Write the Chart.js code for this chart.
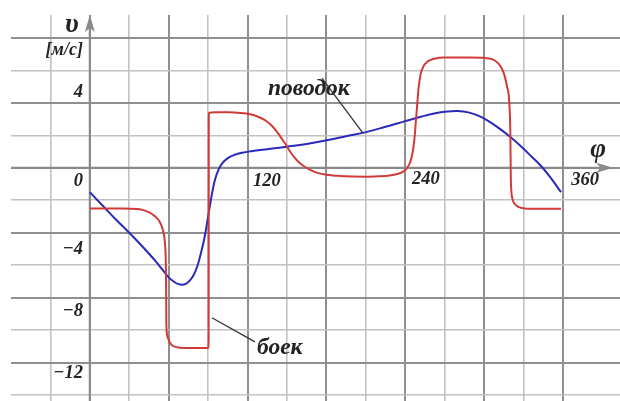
<!DOCTYPE html>
<html>
<head>
<meta charset="utf-8">
<script src="https://cdn.jsdelivr.net/npm/chart.js@4.4.1/dist/chart.umd.min.js"></script>
<style>
  html, body { margin: 0; padding: 0; background: #ffffff; }
  canvas { display: block; }
</style>
</head>
<body>
<canvas id="c" width="620" height="401"></canvas>
<script>
// ---- data ----
// боек (red)
const phiRed = [0, 10, 20, 30, 38, 44, 49, 53, 55.5, 57, 57.7, 58, 58.2, 58.6, 60, 62, 66, 72, 85, 90,
  90.4, 90.5, 90.7, 95, 105, 115, 122, 128, 134, 139, 143, 146, 149, 152, 155, 159, 163, 167, 172, 180,
  190, 200, 210, 220, 228, 234, 238, 241, 243.5, 245.5, 247, 248, 249, 250, 251.5, 253.5, 257, 262, 270, 290,
  300, 306, 310, 313, 315.5, 317.5, 319, 320, 320.3, 320.7, 321.5, 323, 326, 331, 340, 358.5];
const vRed = [-2.5, -2.5, -2.5, -2.52, -2.55, -2.7, -2.95, -3.3, -3.8, -4.5, -5.5, -7, -9.5, -10.2, -10.6, -10.9, -11.05, -11.1, -11.1, -11.1,
  -10.5, 3.2, 3.4, 3.42, 3.42, 3.38, 3.3, 3.15, 2.9, 2.55, 2.15, 1.8, 1.45, 1.05, 0.7, 0.35, 0.1, -0.1, -0.28, -0.42,
  -0.5, -0.54, -0.55, -0.52, -0.47, -0.38, -0.25, -0.05, 0.3, 0.9, 1.8, 2.8, 3.8, 4.8, 5.7, 6.2, 6.55, 6.72, 6.8, 6.8,
  6.78, 6.7, 6.5, 6.2, 5.7, 5.0, 4.2, 2.0, -0.5, -1.4, -1.9, -2.2, -2.4, -2.5, -2.52, -2.52];

// поводок (blue)
const phiBlue = [0, 10, 20, 30, 40, 50, 56, 60, 64, 67, 70, 73, 76, 79, 82, 85, 87.5, 90, 92.5, 95,
  98, 101, 105, 110, 116, 125, 135, 150, 165, 180, 195, 210, 225, 240, 252, 262, 272, 280, 288, 296,
  304, 312, 320, 328, 336, 344, 351, 358.5];
const vBlue = [-1.5, -2.35, -3.2, -4.0, -4.85, -5.75, -6.35, -6.75, -7.02, -7.15, -7.2, -7.15, -6.95, -6.6, -6.0, -5.1, -4.2, -3.0, -1.8, -0.8,
  -0.1, 0.3, 0.6, 0.8, 0.93, 1.05, 1.15, 1.3, 1.47, 1.7, 1.95, 2.2, 2.53, 2.88, 3.15, 3.35, 3.47, 3.5, 3.42, 3.2,
  2.85, 2.4, 1.9, 1.33, 0.7, 0.05, -0.65, -1.5];

// grid / tick values
const xTicks = [-30, 0, 30, 60, 90, 120, 150, 180, 210, 240, 270, 300, 330, 360];
const yTicks = [-14, -12, -10, -8, -6, -4, -2, 0, 2, 4, 6, 8];
const yTickLabels = ['4', '0', '−4', '−8', '−12'];
const yTickLabelValues = [4, 0, -4, -8, -12];
const xTickLabels = ['120', '240', '360'];
const xTickLabelValues = [120, 240, 360];

// ---- styling / annotations ----
const RED = '#d23a3a';
const BLUE = '#2a2ab8';
const GRID_MINOR = '#c2c2c2';
const GRID_MAJOR = '#8f8f8f';
const AXIS = '#8a8a8a';
const TEXT = '#222222';
const SERIF = '"Liberation Serif", "DejaVu Serif", serif';

// positions of the tick labels, in data units
const yLabelPos = { x: -5.3, dy: [0.67, -0.81, -1.0, -0.82, -0.64] };
const xLabelPos = { dx: 4.1, dxExtra: [0, 1, 2.3], y: [-0.81, -0.69, -0.75] };

const annotations = {
  unitTitle: { text: 'υ', x: -13.6, y: 8.8, size: 28 },
  unit: { text: '[м/с]', x: -5.3, y: 7.26, size: 18 },
  phi: { text: 'φ', x: 386.7, y: 1.1, size: 27 },
  povodok: { text: 'поводок', x: 135.5, y: 4.49, size: 23.5, lineFrom: [176.6, 5.53], lineTo: [207.8, 2.14] },
  boek: { text: 'боек', x: 127.2, y: -11.45, size: 23.5, lineFrom: [92.9, -9.24], lineTo: [125.6, -10.73] },
  xArrowEnd: 398.3,
  yArrowEnd: 9.42
};

const toPts = (xs, ys) => xs.map((x, i) => ({ x, y: ys[i] }));

const axesPlugin = {
  id: 'axesPlugin',
  beforeDatasetsDraw(chart) {
    const { ctx, chartArea, scales: { x, y } } = chart;
    const x0 = x.getPixelForValue(0);
    const y0 = y.getPixelForValue(0);
    ctx.save();
    ctx.strokeStyle = AXIS;
    ctx.fillStyle = AXIS;
    ctx.lineWidth = 2.2;
    const yTop = y.getPixelForValue(annotations.yArrowEnd);
    ctx.beginPath();
    ctx.moveTo(x0, chartArea.bottom);
    ctx.lineTo(x0, yTop + 8);
    ctx.stroke();
    ctx.beginPath();
    ctx.moveTo(x0, yTop);
    ctx.lineTo(x0 - 5, yTop + 17);
    ctx.lineTo(x0, yTop + 13);
    ctx.lineTo(x0 + 5, yTop + 17);
    ctx.closePath();
    ctx.fill();
    const xEnd = x.getPixelForValue(annotations.xArrowEnd);
    ctx.beginPath();
    ctx.moveTo(chartArea.left, y0);
    ctx.lineTo(xEnd - 8, y0);
    ctx.stroke();
    ctx.beginPath();
    ctx.moveTo(xEnd, y0);
    ctx.lineTo(xEnd - 17, y0 - 5);
    ctx.lineTo(xEnd - 13, y0);
    ctx.lineTo(xEnd - 17, y0 + 5);
    ctx.closePath();
    ctx.fill();
    ctx.restore();
  },
  afterDatasetsDraw(chart) {
    const { ctx, scales: { x, y } } = chart;
    ctx.save();
    ctx.fillStyle = TEXT;
    ctx.font = 'italic bold 18.5px ' + SERIF;
    ctx.textAlign = 'right';
    ctx.textBaseline = 'middle';
    yTickLabels.forEach((t, i) => {
      ctx.fillText(t, x.getPixelForValue(yLabelPos.x), y.getPixelForValue(yTickLabelValues[i] + yLabelPos.dy[i]));
    });
    ctx.textAlign = 'left';
    xTickLabels.forEach((t, i) => {
      ctx.fillText(t, x.getPixelForValue(xTickLabelValues[i] + xLabelPos.dx + xLabelPos.dxExtra[i]), y.getPixelForValue(xLabelPos.y[i]));
    });
    const a = annotations;
    ctx.textAlign = 'center';
    ctx.font = 'italic bold ' + a.unitTitle.size + 'px ' + SERIF;
    ctx.fillText(a.unitTitle.text, x.getPixelForValue(a.unitTitle.x), y.getPixelForValue(a.unitTitle.y));
    ctx.textAlign = 'right';
    ctx.font = 'italic bold ' + a.unit.size + 'px ' + SERIF;
    ctx.fillText(a.unit.text, x.getPixelForValue(a.unit.x), y.getPixelForValue(a.unit.y));
    ctx.textAlign = 'center';
    ctx.font = 'italic bold ' + a.phi.size + 'px ' + SERIF;
    ctx.fillText(a.phi.text, x.getPixelForValue(a.phi.x), y.getPixelForValue(a.phi.y));
    [a.povodok, a.boek].forEach(l => {
      ctx.strokeStyle = '#333333';
      ctx.lineWidth = 1.3;
      ctx.beginPath();
      ctx.moveTo(x.getPixelForValue(l.lineFrom[0]), y.getPixelForValue(l.lineFrom[1]));
      ctx.lineTo(x.getPixelForValue(l.lineTo[0]), y.getPixelForValue(l.lineTo[1]));
      ctx.stroke();
      ctx.font = 'italic bold ' + l.size + 'px ' + SERIF;
      ctx.textAlign = 'left';
      ctx.textBaseline = 'alphabetic';
      ctx.fillText(l.text, x.getPixelForValue(l.x), y.getPixelForValue(l.y));
      ctx.textBaseline = 'middle';
    });
    ctx.restore();
  }
};

new Chart(document.getElementById('c'), {
  type: 'scatter',
  data: {
    datasets: [
      {
        label: 'боек',
        data: toPts(phiRed, vRed),
        showLine: true,
        borderColor: RED,
        borderWidth: 2,
        pointRadius: 0,
        cubicInterpolationMode: 'monotone'
      },
      {
        label: 'поводок',
        data: toPts(phiBlue, vBlue),
        showLine: true,
        borderColor: BLUE,
        borderWidth: 2,
        pointRadius: 0,
        tension: 0.4
      }
    ]
  },
  options: {
    responsive: false,
    animation: false,
    layout: { padding: { left: 11, top: 15, right: 0, bottom: 0 } },
    plugins: { legend: { display: false }, tooltip: { enabled: false } },
    scales: {
      x: {
        type: 'linear',
        min: -60,
        max: 403.4,
        afterBuildTicks: s => { s.ticks = xTicks.map(v => ({ value: v })); },
        ticks: { display: false },
        border: { display: false },
        grid: {
          drawTicks: false,
          color: c => (c.tick && c.tick.value % 60 === 0) ? GRID_MAJOR : GRID_MINOR,
          lineWidth: c => (c.tick && c.tick.value % 60 === 0) ? 2 : 1.6
        }
      },
      y: {
        type: 'linear',
        min: -14.37,
        max: 9.42,
        afterBuildTicks: s => { s.ticks = yTicks.map(v => ({ value: v })); },
        ticks: { display: false },
        border: { display: false },
        grid: {
          drawTicks: false,
          color: c => (c.tick && c.tick.value % 4 === 0) ? GRID_MAJOR : GRID_MINOR,
          lineWidth: c => (c.tick && c.tick.value % 4 === 0) ? 2 : 1.6
        }
      }
    }
  },
  plugins: [axesPlugin]
});
</script>
</body>
</html>
